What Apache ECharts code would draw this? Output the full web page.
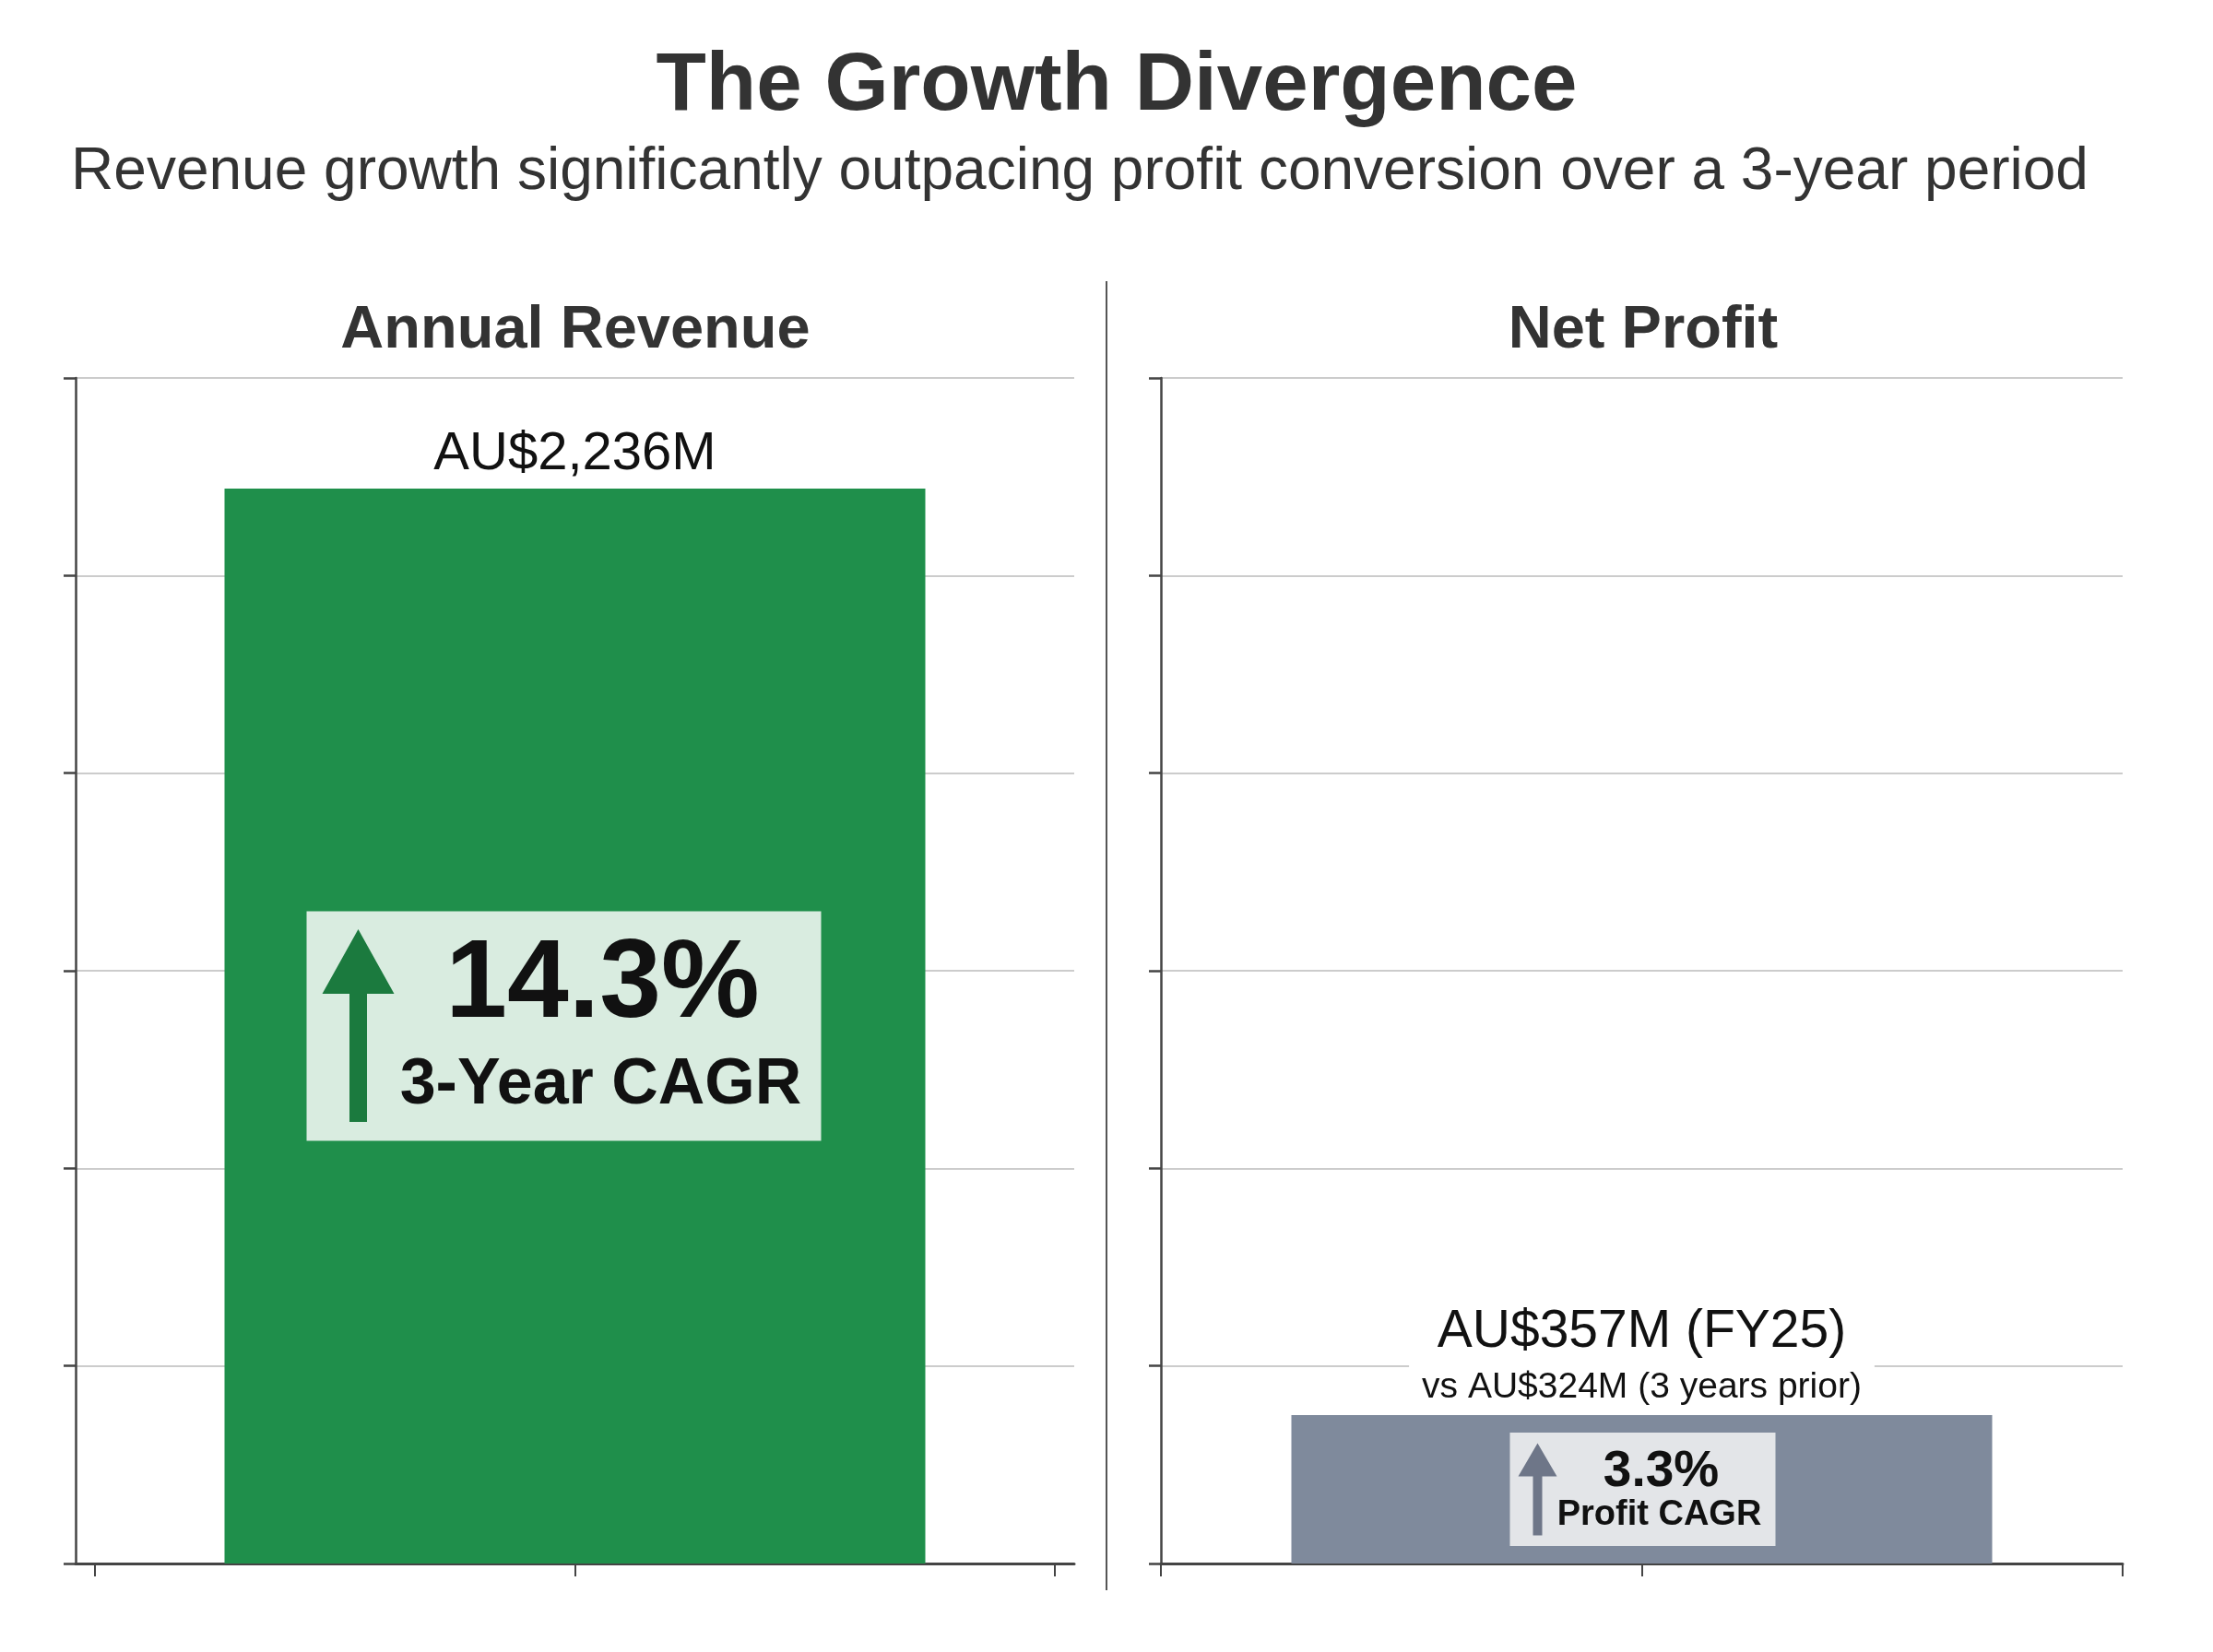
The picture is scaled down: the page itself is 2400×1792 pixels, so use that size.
<!DOCTYPE html>
<html>
<head>
<meta charset="utf-8">
<title>The Growth Divergence</title>
<script src="https://cdn.jsdelivr.net/npm/echarts@6/dist/echarts.min.js"></script>
<style>
  html, body { margin: 0; padding: 0; background: #fff; }
  #main { width: 2400px; height: 1792px; }
</style>
</head>
<body>
<div id="main"></div>
<script>
// data
var panelTitles = ['Annual Revenue', 'Net Profit'];
var revenueValues = [2236];
var profitValues = [357];
var profitPrior = [324];
var cagrValues = ['14.3%', '3.3%'];
var cagrNames = ['3-Year CAGR', 'Profit CAGR'];
var yMax = [2466, 2850];
var yInterval = [411, 475];
var xTicks = [-1, 0, 1];

var FONT = '"Liberation Sans", Arial, Helvetica, sans-serif';
var axisColor = '#444';
var gridColor = '#cccccc';

// box + arrow styles for each panel (pixel offsets from bar centre)
var boxStyles = [
  { dx: -12, w: 558, h: 249, fill: '#d9ece0', arrow: '#1b7a3e',
    ax: -235, sw: 19, tip: -105, base: -35, bottom: 104, hw: 39,
    t1x: 30, t1y: -43, t1s: 120, t2x: 28, t2y: 65, t2s: 70 },
  { dx: 1, w: 288, h: 123, fill: '#e3e5e8', arrow: '#6e7688',
    ax: -113, sw: 10, tip: -50, base: -14, bottom: 50, hw: 21,
    t1x: 21, t1y: -19, t1s: 55, t2x: 19, t2y: 28, t2s: 38 }
];

function cagrBox(idx) {
  return function (params, api) {
    var b = boxStyles[idx];
    var c = api.coord([api.value(0), api.value(1) / 2]);
    var cx = c[0], cy = c[1];
    var ax = cx + b.ax;
    return {
      type: 'group',
      children: [
        { type: 'rect',
          shape: { x: cx + b.dx - b.w / 2, y: cy - b.h / 2, width: b.w, height: b.h },
          style: { fill: b.fill } },
        { type: 'polygon',
          shape: { points: [
            [ax - b.sw / 2, cy + b.bottom], [ax - b.sw / 2, cy + b.base],
            [ax - b.hw, cy + b.base], [ax, cy + b.tip], [ax + b.hw, cy + b.base],
            [ax + b.sw / 2, cy + b.base], [ax + b.sw / 2, cy + b.bottom]] },
          style: { fill: b.arrow } },
        { type: 'text',
          style: { text: cagrValues[idx], x: cx + b.t1x, y: cy + b.t1y,
            fontSize: b.t1s, fontWeight: 'bold', fontFamily: FONT, fill: '#111',
            align: 'center', verticalAlign: 'middle' } },
        { type: 'text',
          style: { text: cagrNames[idx], x: cx + b.t2x, y: cy + b.t2y,
            fontSize: b.t2s, fontWeight: 'bold', fontFamily: FONT, fill: '#111',
            align: 'center', verticalAlign: 'middle' } }
      ]
    };
  };
}

function xAxisOpt(idx, range) {
  return {
    type: 'value', gridIndex: idx, min: -range, max: range,
    axisLine: { onZero: false, lineStyle: { color: axisColor, width: 3 } },
    axisTick: { customValues: xTicks, length: 14, lineStyle: { color: axisColor, width: 2 } },
    axisLabel: { show: false },
    splitLine: { show: false }
  };
}

function yAxisOpt(idx) {
  return {
    type: 'value', gridIndex: idx, min: 0, max: yMax[idx], interval: yInterval[idx],
    axisLine: { show: true, onZero: false, lineStyle: { color: axisColor, width: 2.5 } },
    axisTick: { show: true, length: 13, lineStyle: { color: axisColor, width: 2.5 } },
    axisLabel: { show: false },
    splitLine: { lineStyle: { color: gridColor, width: 2 } }
  };
}

function headingText(text, x, y, size, weight) {
  return {
    type: 'text', x: x, y: y,
    style: { text: text, fontSize: size, fontWeight: weight, fontFamily: FONT, fill: '#333',
      align: 'center', verticalAlign: 'middle', textAlign: 'center', textVerticalAlign: 'middle' }
  };
}

function renderChart() {
  var myChart = echarts.init(document.getElementById('main'), null, { renderer: 'canvas' });
  var options = {
    backgroundColor: '#ffffff',
    animation: false,
    graphic: [
      headingText('The Growth Divergence', 1211, 94, 89, 'bold'),
      headingText('Revenue growth significantly outpacing profit conversion over a 3-year period', 1171, 187, 64, 'normal'),
      headingText(panelTitles[0], 624, 359, 65, 'bold'),
      headingText(panelTitles[1], 1782, 359, 65, 'bold'),
      { type: 'line', shape: { x1: 1200, y1: 305, x2: 1200, y2: 1725 },
        style: { stroke: '#555', lineWidth: 2 } }
    ],
    grid: [
      { left: 82, right: 1235, top: 410, bottom: 96 },
      { left: 1259, right: 98, top: 410, bottom: 96 }
    ],
    xAxis: [xAxisOpt(0, 1.04), xAxisOpt(1, 1)],
    yAxis: [yAxisOpt(0), yAxisOpt(1)],
    series: [
      {
        type: 'bar', xAxisIndex: 0, yAxisIndex: 0,
        data: revenueValues.map(function (v) { return [0, v]; }),
        barWidth: 760,
        itemStyle: { color: '#1f8f4b' },
        label: {
          show: true, position: 'top', distance: 8,
          formatter: function (p) { return 'AU$' + p.value[1].toLocaleString('en-US') + 'M'; },
          fontSize: 58, fontFamily: FONT, color: '#111'
        }
      },
      {
        type: 'bar', xAxisIndex: 1, yAxisIndex: 1,
        data: profitValues.map(function (v) { return [0, v]; }),
        barWidth: 760,
        itemStyle: { color: '#7f8a9c' },
        label: {
          show: true, position: 'top', distance: 3,
          backgroundColor: '#ffffff', padding: [4, 14, 0, 14],
          formatter: function (p) {
            return '{a|AU$' + p.value[1] + 'M (FY25)}\n{b|vs AU$' + profitPrior[0] + 'M (3 years prior)}';
          },
          rich: {
            a: { fontSize: 57, lineHeight: 66, fontFamily: FONT, color: '#111', align: 'center' },
            b: { fontSize: 39, lineHeight: 54, fontFamily: FONT, color: '#111', align: 'center' }
          }
        }
      },
      {
        type: 'custom', xAxisIndex: 0, yAxisIndex: 0, z: 5,
        data: revenueValues.map(function (v) { return [0, v]; }),
        renderItem: cagrBox(0)
      },
      {
        type: 'custom', xAxisIndex: 1, yAxisIndex: 1, z: 5,
        data: profitValues.map(function (v) { return [0, v]; }),
        renderItem: cagrBox(1)
      }
    ]
  };
  myChart.setOption(options, true);
}

renderChart();
</script>
</body>
</html>
